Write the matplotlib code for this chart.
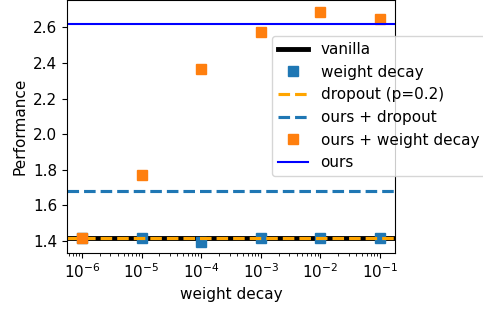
import matplotlib
matplotlib.use('Agg')
import matplotlib.pyplot as plt

weight_decays = [1e-6, 1e-5, 1e-4, 1e-3, 1e-2, 1e-1]
wd_perf = [1.413, 1.413, 1.395, 1.413, 1.413, 1.413]
ours_wd_perf = [1.414, 1.771, 2.367, 2.573, 2.690, 2.645]

vanilla = 1.414
dropout = 1.414
ours_dropout = 1.677
ours = 2.621

plt.rcParams['font.size'] = 11

fig = plt.figure(figsize=(4.83, 3.09), dpi=100)
ax = fig.add_axes([0.1387, 0.1812, 0.6791, 0.8188])

ax.axhline(vanilla, color='black', lw=3.5, label='vanilla')
ax.plot(weight_decays, wd_perf, 's', color='tab:blue', ms=7, label='weight decay')
ax.axhline(dropout, color='orange', ls='--', lw=2.25, label='dropout (p=0.2)')
ax.axhline(ours_dropout, color='tab:blue', ls='--', lw=2.25, label='ours + dropout')
ax.plot(weight_decays, ours_wd_perf, 's', color='tab:orange', ms=7, label='ours + weight decay')
ax.axhline(ours, color='blue', lw=1.5, label='ours')

ax.set_xscale('log')
ax.set_xlabel('weight decay')
ax.set_ylabel('Performance')
ax.legend(loc='upper left', bbox_to_anchor=(0.5625, 0.8835),
          bbox_transform=fig.transFigure, borderaxespad=0)

fig.savefig('out.png', dpi=100)
